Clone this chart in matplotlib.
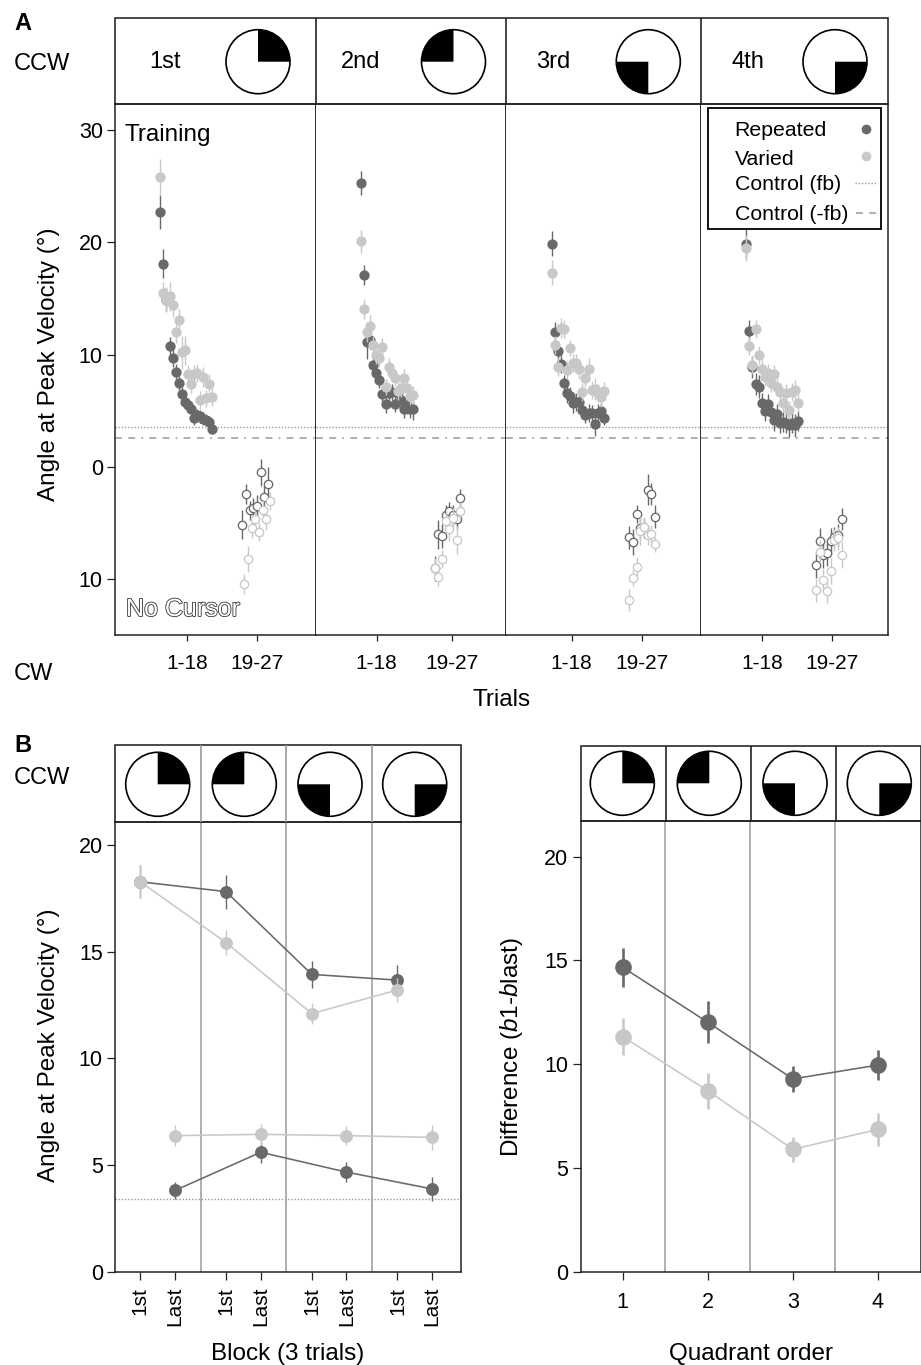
import numpy as np
import matplotlib
matplotlib.use("Agg")
import matplotlib.pyplot as plt
import matplotlib.patheffects as pe
from matplotlib.patches import Wedge, Circle, Rectangle

plt.rcParams['font.family'] = ['Liberation Sans', 'DejaVu Sans']
plt.rcParams['mathtext.fontset'] = 'custom'
plt.rcParams['mathtext.rm'] = 'Liberation Sans'
plt.rcParams['mathtext.it'] = 'Liberation Sans:italic'
plt.rcParams['lines.scale_dashes'] = False

# ---------- data: panel A, training (18 trials) ----------
rep_train = [
    [22.7,18.1,14.9,10.75,9.7,8.5,7.5,6.5,5.8,5.5,5.2,4.4,4.6,4.5,4.3,4.2,4.0,3.4],
    [25.3,17.1,11.1,11.3,9.1,8.4,7.75,6.5,5.6,6.6,6.7,5.6,6.6,6.0,5.2,5.4,5.2,5.2],
    [19.9,12.05,10.3,9.2,7.45,6.6,6.35,5.7,5.8,5.75,5.1,4.6,4.8,4.8,3.8,4.8,5.0,4.4],
    [19.9,12.1,8.9,7.4,7.15,5.7,5.0,5.6,4.9,4.2,4.7,3.9,4.0,3.9,3.7,3.9,3.7,4.1],
]
rep_train_err = [
    [1.5,1.3,1.0,.8,.8,.7,.6,.6,.5,.5,.5,.7,.6,.6,.6,.5,.5,.5],
    [1.1,.9,1.5,.8,.7,.7,.7,.7,.8,.8,.7,.7,.7,.7,.8,.7,.8,1.0],
    [1.1,.9,.9,.8,.7,.9,.8,.9,.8,.8,.7,.7,.8,.7,1.0,.8,.7,.7],
    [1.3,1.0,1.0,1.0,1.0,.9,.9,.9,.9,1.0,.9,.9,.9,.9,1.0,.9,1.0,.9],
]
var_train = [
    [25.8,15.5,14.9,15.2,14.4,12.0,13.1,10.2,10.4,8.25,7.4,8.3,8.4,6.0,8.0,6.1,7.4,6.2],
    [20.1,14.1,12.0,12.6,10.9,10.0,9.7,10.7,7.15,8.9,8.4,7.9,6.8,7.0,7.9,7.0,6.3,6.4],
    [17.3,10.9,8.9,12.4,12.3,8.6,10.6,9.3,9.3,8.7,6.7,7.95,8.7,6.85,6.95,6.6,6.2,6.8],
    [19.5,10.8,9.1,12.3,10.0,8.7,8.0,8.4,7.5,8.3,7.1,6.7,5.7,6.6,5.1,6.7,6.85,5.7],
]
var_train_err = [
    [1.6,1.0,1.1,1.3,1.0,1.0,1.0,1.5,1.3,.8,.8,.8,.8,.8,.9,.8,.9,.8],
    [1.0,.9,.9,.9,.8,.8,.8,.8,.7,.8,.8,.7,.8,.8,.8,.7,.8,.8],
    [1.1,.8,.8,.9,.8,.8,.7,.8,.8,.8,.8,.8,1.0,.8,1.0,.8,.9,.8],
    [1.2,.8,.8,.8,.8,.8,.8,.8,.8,.8,.8,.8,.8,.8,.8,.8,.9,.8],
]
# ---------- data: panel A, no cursor ----------
rep_nc = [
    [-5.14,-2.37,-3.86,-3.68,-3.47,-0.45,-2.70,-1.48],
    [-9.02,-6.0,-6.15,-4.27,-3.92,-4.27,-4.66,-2.79],
    [-6.26,-6.65,-4.2,-5.46,-5.4,-2.02,-2.4,-4.42],
    [-8.7,-6.59,-7.84,-7.69,-6.59,-6.2,-6.05,-4.63],
]
rep_nc_err = [
    [1.3,.9,.85,.9,1.0,1.2,1.0,1.5],
    [1.1,1.3,1.1,.9,.8,.9,.9,.85],
    [1.0,1.15,.8,.9,.9,1.4,1.0,1.0],
    [1.2,1.15,1.15,1.1,1.2,.9,1.0,1.0],
]
var_nc = [
    [-10.45,-8.19,-5.43,-4.63,-5.82,-3.83,-4.63,-3.0],
    [-9.0,-9.77,-8.22,-4.81,-5.55,-4.57,-6.5,-3.89],
    [-11.84,-9.88,-8.93,-5.67,-5.31,-6.05,-6.0,-6.89],
    [-10.98,-7.54,-10.09,-11.07,-9.26,-6.5,-6.35,-7.87],
]
var_nc_err = [
    [.9,1.15,.9,.8,.8,.9,1.0,.8],
    [.9,.85,.8,.9,1.0,.9,1.25,.8],
    [1.0,.7,.9,1.25,.8,.9,.8,.7],
    [1.05,1.0,1.0,1.0,1.2,1.0,1.0,1.15],
]
nc_start_rep = [27.7, 25.0, 26.3, 23.7]
nc_start_var = [28.35, 25.0, 26.3, 23.7]
nc_step = 1.195
a_ticks = [[9.7, 32.5], [6.1, 30.5], [7.5, 30.3], [6.1, 28.8]]
a_tick_labels = ['1-18', '19-27']
a_yticks = [30, 20, 10, 0, -10]
a_ylabels = ['30', '20', '10', '0', '10']
control_fb = 3.59
control_nofb = 2.55
quadrant_names = ['1st', '2nd', '3rd', '4th']

# ---------- data: panel B left ----------
block_x_first = [0, 2.47, 4.94, 7.41]
block_x_last = [1, 3.47, 5.94, 8.41]
block_seps = [1.735, 4.205, 6.675]
rep_first = [18.28, 17.82, 13.94, 13.67]
rep_first_err = [.78, .8, .62, .7]
var_first = [18.28, 15.43, 12.1, 13.21]
var_first_err = [.78, .6, .5, .55]
rep_last = [3.81, 5.6, 4.67, 3.88]
rep_last_err = [.4, .5, .45, .55]
var_last = [6.38, 6.44, 6.38, 6.3]
var_last_err = [.5, .5, .45, .6]
control_b = 3.41

# ---------- data: panel B right ----------
quad_order = [1, 2, 3, 4]
quad_seps = [1.5, 2.5, 3.5]
rep_diff = [14.67, 12.02, 9.29, 9.96]
rep_diff_err = [.93, 1.02, .64, .72]
var_diff = [11.33, 8.72, 5.9, 6.86]
var_diff_err = [.88, .86, .59, .78]

DARK = '#696969'
LIGHT = '#c8c8c8'
REF = '#9a9a9a'
SPINE = '#222222'
W, H = 921, 1365
TICK = 15.5
LAB = 17.5

fig = plt.figure(figsize=(W/100, H/100), dpi=100)

def px_axes(l, t, r, b):
    ax = fig.add_axes([l/W, 1-b/H, (r-l)/W, (b-t)/H])
    for s in ax.spines.values():
        s.set_linewidth(1.1)
        s.set_color(SPINE)
    ax.tick_params(length=5.5, width=0.9, labelsize=TICK, color=SPINE)
    return ax

def series(ax, x, y, e, color, ms, elw, open_=False, line=False, z=3):
    x = np.asarray(x, float); y = np.asarray(y, float); e = np.asarray(e, float)
    ax.vlines(x, y-e, y+e, color=color, lw=elw, zorder=z)
    if line:
        ax.plot(x, y, '-', color=color, lw=1.15, zorder=z)
    if open_:
        ax.plot(x, y, 'o', ms=ms, mfc='white', mec=color, mew=0.95, ls='none', zorder=z+0.1)
    else:
        ax.plot(x, y, 'o', ms=ms, mfc=color, mec='none', ls='none', zorder=z+0.1)

# ---------- panel A ----------
edges = [115.3, 315.5, 506, 701, 887.8]
trial1_px = [160.3, 361, 551.7, 746.3]
UNIT = 3.07
a_top, a_bottom = 103.5, 634.5
y0_px, ppu = 467, 11.23
DASHDOT = (0, (5, 4.5, 5, 4.5, 1.2, 4.5))
axes_a = []
for i in range(4):
    ax = px_axes(edges[i], a_top, edges[i+1], a_bottom)
    axes_a.append(ax)
    ax.set_xlim(1+(edges[i]-trial1_px[i])/UNIT, 1+(edges[i+1]-trial1_px[i])/UNIT)
    ax.set_ylim((y0_px-a_bottom)/ppu, (y0_px-a_top)/ppu)
    ax.axhline(control_fb, color=REF, lw=1.0, ls=(0, (1, 1.3)), zorder=1)
    ax.axhline(control_nofb, color=REF, lw=1.1, ls=DASHDOT, zorder=1)
    t = np.arange(1, 19)
    series(ax, t, rep_train[i], rep_train_err[i], DARK, 7.4, 1.0, z=3)
    series(ax, t, var_train[i], var_train_err[i], LIGHT, 7.4, 1.0, z=4)
    xr = nc_start_rep[i] + nc_step*np.arange(8)
    xv = nc_start_var[i] + nc_step*np.arange(8)
    series(ax, xr, rep_nc[i], rep_nc_err[i], DARK, 6.0, 1.0, open_=True, z=3)
    series(ax, xv, var_nc[i], var_nc_err[i], LIGHT, 6.0, 1.0, open_=True, z=4)
    ax.set_xticks(a_ticks[i])
    ax.set_xticklabels(a_tick_labels, fontsize=15)
    ax.tick_params(axis='x', length=4.5, pad=9.5)
    if i == 0:
        ax.set_yticks(a_yticks)
        ax.set_yticklabels(a_ylabels)
    else:
        ax.set_yticks([])
        ax.spines['left'].set_visible(False)
    if i < 3:
        ax.spines['right'].set_linewidth(1.35)

# ---------- panel B left ----------
bl = px_axes(115.3, 822.3, 461, 1271.7)
bl.set_xlim(-0.72, 9.24)
bl.set_ylim(0, 21.07)
for s in block_seps:
    bl.axvline(s, color=REF, lw=1.1, zorder=1)
bl.axhline(control_b, color=REF, lw=1.0, ls=(0, (1, 1.3)), zorder=1)
series(bl, block_x_first, rep_first, rep_first_err, DARK, 9.3, 1.0, line=True, z=3)
series(bl, block_x_last, rep_last, rep_last_err, DARK, 9.3, 1.0, line=True, z=3)
series(bl, block_x_first, var_first, var_first_err, LIGHT, 9.3, 1.0, line=True, z=4)
series(bl, block_x_last, var_last, var_last_err, LIGHT, 9.3, 1.0, line=True, z=4)
bl.set_yticks([0, 5, 10, 15, 20])
bl.set_xticks(sorted(block_x_first + block_x_last))
bl.set_xticklabels(['1st', 'Last']*4, rotation=90, fontsize=15)
bl.tick_params(axis='x', pad=5.5)

# ---------- panel B right ----------
br = px_axes(580.7, 821, 920.5, 1271.7)
br.set_xlim(0.507, 4.5)
br.set_ylim(0, 21.72)
for s in quad_seps:
    br.axvline(s, color=REF, lw=1.1, zorder=1)
series(br, quad_order, rep_diff, rep_diff_err, DARK, 12.0, 1.9, line=True, z=3)
series(br, quad_order, var_diff, var_diff_err, LIGHT, 12.0, 1.9, line=True, z=4)
br.set_yticks([0, 5, 10, 15, 20])
br.set_xticks(quad_order)
br.set_xticklabels(['1', '2', '3', '4'])
br.tick_params(axis='x', pad=9)

# ---------- overlay in pixel space: headers, labels, legend ----------
ov = fig.add_axes([0, 0, 1, 1], zorder=10)
ov.set_xlim(0, W); ov.set_ylim(0, H); ov.axis('off'); ov.patch.set_alpha(0)
Y = lambda p: H - p
QUAD = [(0, 90), (90, 180), (180, 270), (270, 360)]

def pie(cx, cy, q, r=32):
    ov.add_patch(Wedge((cx, Y(cy)), r, *QUAD[q], fc='black', ec='none'))
    ov.add_patch(Circle((cx, Y(cy)), r, fc='none', ec='black', lw=1.2))

def box(l, t, r, b, lw=1.15, ec=SPINE):
    ov.add_patch(Rectangle((l, Y(b)), r-l, b-t, fc='none', ec=ec, lw=lw))

def vl(x, t, b, color=SPINE, lw=1.2):
    ov.plot([x, x], [Y(t), Y(b)], color=color, lw=lw, solid_capstyle='butt')

# header A
box(115.3, 17.5, 887.8, 103.5)
for x in edges[1:-1]:
    vl(x, 17.5, 103.5)
for q, (lx, cx) in enumerate(zip([149, 341, 536, 731], [258, 453.5, 648.3, 835])):
    ov.text(lx, Y(62), quadrant_names[q], fontsize=17, ha='left', va='center')
    pie(cx, 61.7, q)
# header B left
box(115.3, 744.7, 461, 822.3)
for x in [200.7, 286.3, 371.7]:
    vl(x, 744.7, 822.3, color=REF)
for q, cx in enumerate([157.7, 244.3, 330, 414.7]):
    pie(cx, 784.3, q)
# header B right
box(580.7, 746, 920.5, 821)
for x in [665.7, 751, 836]:
    vl(x, 746, 821)
for q, cx in enumerate([622.3, 709.3, 795, 879.3]):
    pie(cx, 783.3, q)

# letters and labels
ov.text(14, Y(24), 'A', fontsize=17, fontweight='bold', ha='left', va='center')
ov.text(14, Y(745), 'B', fontsize=17, fontweight='bold', ha='left', va='center')
ov.text(14, Y(64), 'CCW', fontsize=17, ha='left', va='center')
ov.text(14, Y(778), 'CCW', fontsize=17, ha='left', va='center')
ov.text(14, Y(674), 'CW', fontsize=17, ha='left', va='center')
ov.text(124, Y(135), 'Training', fontsize=17.5, ha='left', va='center')
ov.text(126, Y(609), 'No Cursor', fontsize=18, ha='left', va='center', color='white',
        path_effects=[pe.withStroke(linewidth=1.2, foreground='#333333')])
ov.text(502, Y(700), 'Trials', fontsize=LAB, ha='center', va='center')
ov.text(49, Y(364), 'Angle at Peak Velocity (°)', fontsize=LAB, rotation=90, ha='center', va='center')
ov.text(49, Y(1045), 'Angle at Peak Velocity (°)', fontsize=LAB, rotation=90, ha='center', va='center')
ov.text(511, Y(1047), r'Difference ($\mathit{b}$1-$\mathit{b}$last)', fontsize=LAB, rotation=90, ha='center', va='center')
ov.text(287.5, Y(1354), 'Block (3 trials)', fontsize=LAB, ha='center', va='center')
ov.text(751, Y(1354), 'Quadrant order', fontsize=LAB, ha='center', va='center')

# legend
ov.add_patch(Rectangle((708, Y(229)), 172.5, 121, fc='white', ec='black', lw=1.3, zorder=5))
for txt, yy in [('Repeated', 131), ('Varied', 159.5), ('Control (fb)', 185), ('Control (-fb)', 215)]:
    ov.text(734.5, Y(yy), txt, fontsize=15.3, ha='left', va='center', zorder=6)
ov.plot([866], [Y(129)], 'o', ms=7, color=DARK, mec='none', zorder=6)
ov.plot([866], [Y(156)], 'o', ms=7, color=LIGHT, mec='none', zorder=6)
ov.plot([855, 877], [Y(183)]*2, color=REF, lw=1.0, ls=(0, (1, 1.3)), zorder=6)
ov.plot([856, 877], [Y(213)]*2, color=REF, lw=1.1, ls=(0, (5, 4.5)), zorder=6)

fig.savefig('out.png', dpi=100)
